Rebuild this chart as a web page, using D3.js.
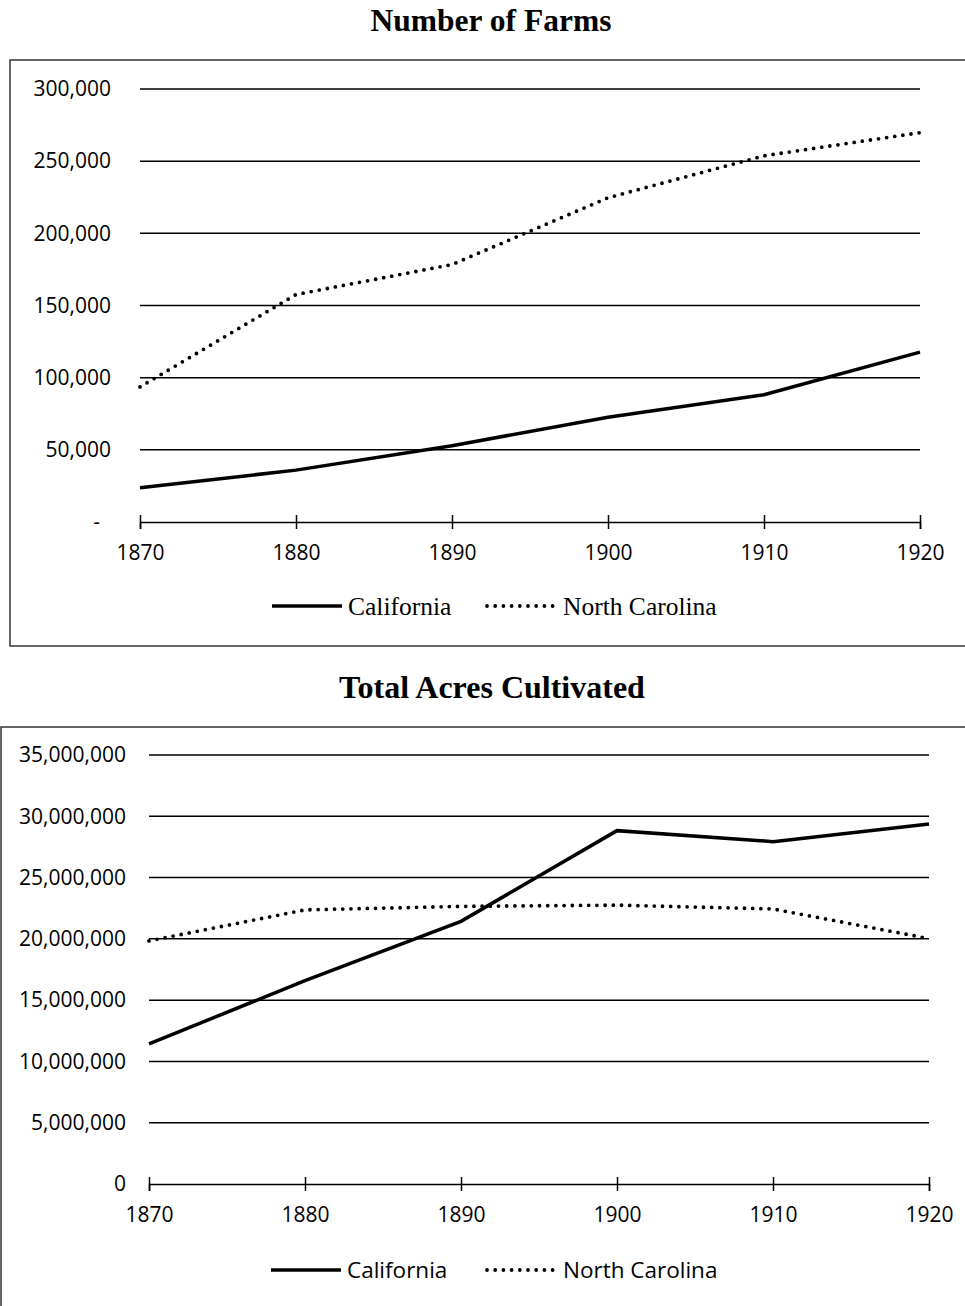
<!DOCTYPE html>
<html>
<head>
<meta charset="utf-8">
<script src="https://cdn.jsdelivr.net/npm/d3@7"></script>
<style>
  body { margin: 0; background: #fff; }
  svg { display: block; }
</style>
</head>
<body>
<svg id="chart" width="965" height="1306"></svg>
<script>
// dados
const years = [1870, 1880, 1890, 1900, 1910, 1920];
const farmsCalifornia = [23724, 35934, 52894, 72542, 88197, 117670];
const farmsNorthCarolina = [93565, 157609, 178359, 224637, 253725, 269763];
const acresCalifornia = [11427105, 16593742, 21427293, 28828951, 27931444, 29365667];
const acresNorthCarolina = [19835410, 22363558, 22651896, 22749356, 22439129, 20021736];
const farmsTicks = [0, 50000, 100000, 150000, 200000, 250000, 300000];
const acresTicks = [0, 5000000, 10000000, 15000000, 20000000, 25000000, 30000000, 35000000];
const seriesNames = ['California', 'North Carolina'];

const svg = d3.select('#chart');
const sansFont = '"Open Sans", sans-serif';
const serifFont = '"Liberation Serif", serif';

function drawPanel(cfg) {
  // título
  svg.append('text')
    .attr('x', cfg.titleX)
    .attr('y', cfg.titleY)
    .attr('text-anchor', 'middle')
    .style('font-family', serifFont)
    .style('font-weight', 'bold')
    .style('font-size', cfg.titleSize + 'px')
    .text(cfg.title);

  // moldura
  svg.append('rect')
    .attr('x', cfg.box[0]).attr('y', cfg.box[1])
    .attr('width', cfg.box[2]).attr('height', cfg.box[3])
    .attr('fill', 'none')
    .attr('stroke', '#333')
    .attr('stroke-width', 1.5);

  const x = d3.scaleLinear().domain([1870, 1920]).range([cfg.x0, cfg.x1]);
  const y = d3.scaleLinear().domain([0, d3.max(cfg.ticks)]).range([cfg.y0, cfg.y1]);

  const g = svg.append('g');

  // linhas de grade
  g.selectAll('line.grid')
    .data(cfg.ticks.filter(d => d > 0))
    .enter().append('line')
    .attr('class', 'grid')
    .attr('x1', cfg.x0).attr('x2', cfg.x1)
    .attr('y1', d => y(d)).attr('y2', d => y(d))
    .attr('stroke', '#000')
    .attr('stroke-width', 1.5);

  // eixo Y (só rótulos)
  const yAxis = g.append('g')
    .attr('transform', `translate(${cfg.yLabelX},0)`)
    .call(d3.axisLeft(y).tickValues(cfg.ticks).tickSize(0).tickPadding(0).tickFormat(cfg.yFormat));
  yAxis.select('.domain').remove();
  yAxis.selectAll('text')
    .style('font-family', sansFont)
    .style('font-size', cfg.tickSize + 'px')
    .style('white-space', 'pre')
    .attr('fill', '#000');

  // eixo X
  const xAxis = g.append('g')
    .attr('transform', `translate(0,${cfg.y0})`)
    .call(d3.axisBottom(x).tickValues(years).tickSize(7).tickPadding(cfg.xPad).tickFormat(d3.format('d')));
  xAxis.select('.domain').attr('stroke', '#000').attr('stroke-width', 1.5);
  xAxis.selectAll('.tick line').attr('y1', -7).attr('stroke-width', 1.5);
  xAxis.selectAll('text')
    .style('font-family', sansFont)
    .style('font-size', cfg.tickSize + 'px')
    .attr('fill', '#000');

  const line = d3.line()
    .x((d, i) => x(years[i]))
    .y(d => y(d));

  g.append('path')
    .datum(cfg.series[0])
    .attr('d', line)
    .attr('fill', 'none')
    .attr('stroke', '#000')
    .attr('stroke-width', 3.5);

  g.append('path')
    .datum(cfg.series[1])
    .attr('d', line)
    .attr('fill', 'none')
    .attr('stroke', '#000')
    .attr('stroke-width', 3.8)
    .attr('stroke-linecap', 'round')
    .attr('stroke-dasharray', '0 8.2');

  // legenda
  const lg = svg.append('g').attr('transform', `translate(0,${cfg.legendY})`);
  lg.append('line')
    .attr('x1', cfg.legendX[0]).attr('x2', cfg.legendX[0] + 70)
    .attr('stroke', '#000').attr('stroke-width', 3.5);
  lg.append('line')
    .attr('x1', cfg.legendX[1]).attr('x2', cfg.legendX[1] + 69)
    .attr('stroke', '#000').attr('stroke-width', 3.8)
    .attr('stroke-linecap', 'round')
    .attr('stroke-dasharray', '0 8.2');
  lg.selectAll('text')
    .data(seriesNames)
    .enter().append('text')
    .attr('x', (d, i) => cfg.legendX[i] + 76)
    .attr('y', 0)
    .attr('dy', '0.35em')
    .style('font-family', cfg.legendFont)
    .style('font-size', cfg.legendSize + 'px')
    .text(d => d);
}

drawPanel({
  title: 'Number of Farms',
  titleX: 491, titleY: 31, titleSize: 31.5,
  box: [10, 60, 970, 586],
  x0: 140, x1: 920, y0: 522, y1: 89,
  ticks: farmsTicks,
  yLabelX: 111,
  yFormat: d => d === 0 ? '-\u00a0\u00a0' : d3.format(',')(d),
  tickSize: 21,
  xPad: 16,
  series: [farmsCalifornia, farmsNorthCarolina],
  legendY: 606, legendX: [272, 487],
  legendFont: serifFont, legendSize: 25.5
});

drawPanel({
  title: 'Total Acres Cultivated',
  titleX: 492, titleY: 698, titleSize: 32,
  box: [1, 727, 975, 600],
  x0: 149, x1: 929, y0: 1184, y1: 755,
  ticks: acresTicks,
  yLabelX: 126,
  yFormat: d3.format(','),
  tickSize: 21,
  xPad: 16,
  series: [acresCalifornia, acresNorthCarolina],
  legendY: 1270, legendX: [271, 487],
  legendFont: sansFont, legendSize: 22.5
});
</script>
</body>
</html>
